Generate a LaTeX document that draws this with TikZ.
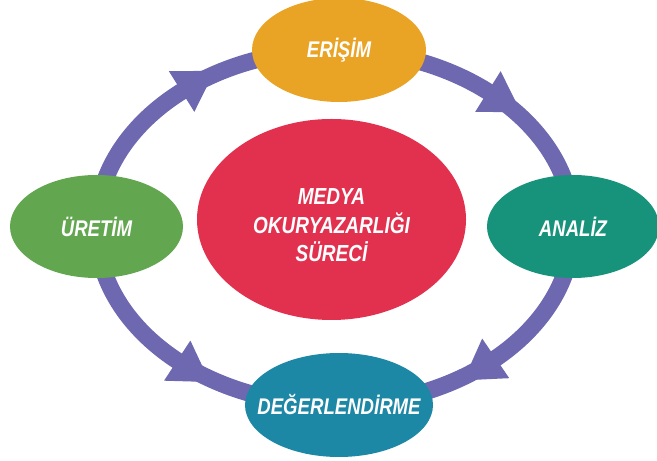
\documentclass[tikz,border=0pt]{standalone}
\usepackage{fontspec}
\setmainfont{Liberation Sans}[FakeStretch=0.82]
\usetikzlibrary{shapes.geometric, positioning, calc}
\definecolor{ringpurple}{RGB}{109, 104, 176}
\definecolor{accessorange}{RGB}{233, 163, 37}
\definecolor{analysisteal}{RGB}{24, 147, 123}
\definecolor{evalblue}{RGB}{28, 136, 166}
\definecolor{creategreen}{RGB}{98, 166, 80}
\definecolor{corered}{RGB}{226, 49, 79}

\begin{document}
\begin{tikzpicture}[
    stage/.style={ellipse, inner xsep=-0.5cm, inner ysep=0pt, minimum width=3.46cm, minimum height=2.06cm, text=white, font=\fontsize{12.9}{15}\selectfont\bfseries\itshape},
    core/.style={ellipse, inner sep=0pt, minimum width=5.38cm, minimum height=4.02cm, fill=corered},
    coretext/.style={align=center, text=white, font=\fontsize{13.2}{16.2}\selectfont\bfseries\itshape},
    ring/.style={line width=0.34cm, draw=ringpurple}
]
\useasboundingbox (0,0) rectangle (13.14,-9.22);

% cycle ring with its arrow heads
\coordinate (ringc) at (6.695,-4.55);
\draw [ring] (ringc) ellipse [x radius=4.765, y radius=3.55];
\foreach \t/\turn in {130/180, 50/180, -47.5/180, 228.6/0} {
    \pgfmathsetmacro\ang{atan2(3.55*cos(\t), -4.765*sin(\t)) + \turn}
    \fill [ringpurple, shift={($(ringc)+(\t:4.765 and 3.55)$)}, rotate=\ang]
        (0.78,0) -- (0,0.48) -- (0,-0.48) -- cycle;
}

\node (erisim) [stage, fill=accessorange, minimum width=3.48cm, minimum height=2.08cm] at (6.78,-1.00) {ERİŞİM};
\node (analiz) [stage, fill=analysisteal, minimum width=3.44cm] at (11.46,-4.53) {ANALİZ};
\node (degerlendirme) [stage, fill=evalblue, minimum width=3.76cm, minimum height=2.08cm] at (6.78,-8.10) {DEĞERLENDİRME};
\node (uretim) [stage, fill=creategreen] at (1.93,-4.53) {ÜRETİM};

\node (merkez) [core] at (6.63,-4.39) {};
\node (merkezyazi) [coretext] at ($(merkez)+(0,-0.12)$) {MEDYA\\OKURYAZARLIĞI\\SÜRECİ};

\end{tikzpicture}
\end{document}
